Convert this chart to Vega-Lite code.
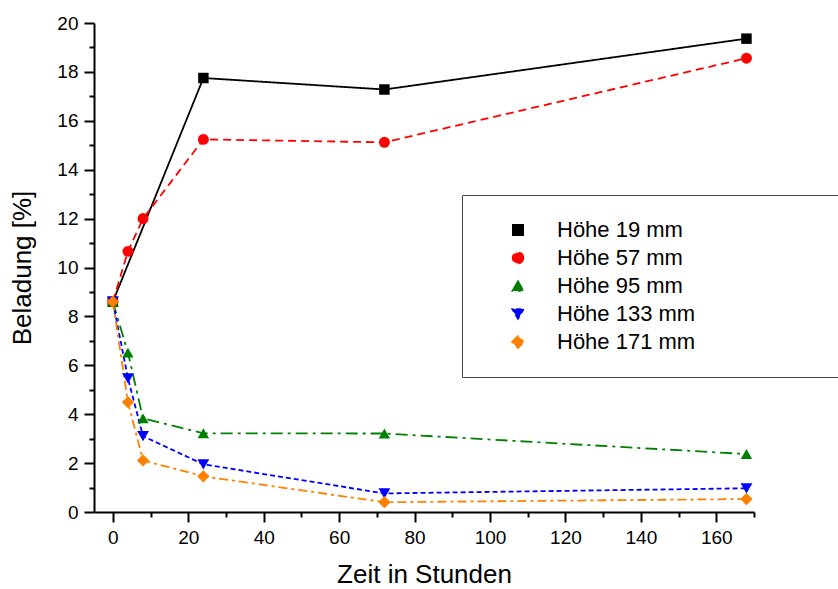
{
  "$schema": "https://vega.github.io/schema/vega-lite/v6.json",
  "width": 660,
  "height": 489,
  "autosize": {"type": "none"},
  "padding": {"left": 94, "top": 23, "right": 84, "bottom": 77},
  "background": "white",
  "config": {"view": {"stroke": null}, "font": "Liberation Sans"},
  "data": {
    "values": [
      {"t": 0, "v": 8.6, "series": "Höhe 19 mm"},
      {"t": 24, "v": 17.75, "series": "Höhe 19 mm"},
      {"t": 72, "v": 17.28, "series": "Höhe 19 mm"},
      {"t": 168, "v": 19.36, "series": "Höhe 19 mm"},
      {"t": 0, "v": 8.6, "series": "Höhe 57 mm"},
      {"t": 4, "v": 10.66, "series": "Höhe 57 mm"},
      {"t": 8, "v": 12.0, "series": "Höhe 57 mm"},
      {"t": 24, "v": 15.24, "series": "Höhe 57 mm"},
      {"t": 72, "v": 15.12, "series": "Höhe 57 mm"},
      {"t": 168, "v": 18.56, "series": "Höhe 57 mm"},
      {"t": 0, "v": 8.6, "series": "Höhe 95 mm"},
      {"t": 4, "v": 6.52, "series": "Höhe 95 mm"},
      {"t": 8, "v": 3.83, "series": "Höhe 95 mm"},
      {"t": 24, "v": 3.22, "series": "Höhe 95 mm"},
      {"t": 72, "v": 3.21, "series": "Höhe 95 mm"},
      {"t": 168, "v": 2.37, "series": "Höhe 95 mm"},
      {"t": 0, "v": 8.6, "series": "Höhe 133 mm"},
      {"t": 4, "v": 5.47, "series": "Höhe 133 mm"},
      {"t": 8, "v": 3.1, "series": "Höhe 133 mm"},
      {"t": 24, "v": 1.95, "series": "Höhe 133 mm"},
      {"t": 72, "v": 0.76, "series": "Höhe 133 mm"},
      {"t": 168, "v": 0.97, "series": "Höhe 133 mm"},
      {"t": 0, "v": 8.6, "series": "Höhe 171 mm"},
      {"t": 4, "v": 4.49, "series": "Höhe 171 mm"},
      {"t": 8, "v": 2.11, "series": "Höhe 171 mm"},
      {"t": 24, "v": 1.46, "series": "Höhe 171 mm"},
      {"t": 72, "v": 0.4, "series": "Höhe 171 mm"},
      {"t": 168, "v": 0.53, "series": "Höhe 171 mm"}
    ]
  },
  "encoding": {
    "x": {
      "field": "t",
      "type": "quantitative",
      "scale": {"domain": [-5, 170], "nice": false, "zero": false},
      "axis": {
        "title": "Zeit in Stunden",
        "titleFontSize": 26,
        "titleFontWeight": "normal",
        "titleColor": "black",
        "titlePadding": 14,
        "values": [0, 10, 20, 30, 40, 50, 60, 70, 80, 90, 100, 110, 120, 130, 140, 150, 160, 170],
        "labelExpr": "datum.value % 20 === 0 ? datum.label : ''",
        "labelFontSize": 19,
        "labelColor": "black",
        "labelPadding": 6,
        "labelFlush": false,
        "labelOverlap": false,
        "grid": false,
        "domainColor": "black",
        "domainWidth": 2,
        "tickColor": "black",
        "tickWidth": 2,
        "tickSize": {"condition": {"test": "datum.value % 20 === 0", "value": 10}, "value": 5}
      }
    },
    "y": {
      "field": "v",
      "type": "quantitative",
      "scale": {"domain": [0, 20], "nice": false},
      "axis": {
        "title": "Beladung [%]",
        "titleFontSize": 26,
        "titleFontWeight": "normal",
        "titleColor": "black",
        "titlePadding": 21,
        "values": [0, 1, 2, 3, 4, 5, 6, 7, 8, 9, 10, 11, 12, 13, 14, 15, 16, 17, 18, 19, 20],
        "labelExpr": "datum.value % 2 === 0 ? datum.label : ''",
        "labelFontSize": 19,
        "labelColor": "black",
        "labelPadding": 6,
        "labelFlush": false,
        "labelOverlap": false,
        "grid": false,
        "domainColor": "black",
        "domainWidth": 2,
        "tickColor": "black",
        "tickWidth": 2,
        "tickSize": {"condition": {"test": "datum.value % 2 === 0", "value": 10}, "value": 5}
      }
    },
    "color": {
      "field": "series",
      "type": "nominal",
      "sort": ["Höhe 19 mm", "Höhe 57 mm", "Höhe 95 mm", "Höhe 133 mm", "Höhe 171 mm"],
      "scale": {
        "domain": ["Höhe 19 mm", "Höhe 57 mm", "Höhe 95 mm", "Höhe 133 mm", "Höhe 171 mm"],
        "range": ["#000000", "#ff0000", "#008000", "#0000ff", "#ff8000"]
      },
      "legend": {
        "title": null,
        "orient": "none",
        "legendX": 368,
        "legendY": 172,
        "padding": 24,
        "strokeColor": "#444444",
        "fillColor": "white",
        "labelFontSize": 22,
        "labelColor": "black",
        "labelLimit": 800,
        "labelExpr": "datum.label + '\u00a0\u00a0\u00a0\u00a0\u00a0\u00a0\u00a0\u00a0\u00a0\u00a0\u00a0\u00a0\u00a0\u00a0\u00a0\u00a0\u00a0\u00a0\u00a0\u00a0\u00a0\u200b'",
        "rowPadding": 6,
        "symbolSize": 144,
        "symbolOffset": 21,
        "labelOffset": 28,
        "symbolStrokeWidth": 1.5
      }
    }
  },
  "layer": [
    {
      "mark": {"type": "line", "strokeWidth": 1.8},
      "encoding": {
        "strokeDash": {
          "field": "series",
          "type": "nominal",
          "scale": {
            "domain": ["Höhe 19 mm", "Höhe 57 mm", "Höhe 95 mm", "Höhe 133 mm", "Höhe 171 mm"],
            "range": [[1, 0], [8, 5], [12, 5, 3, 5], [5, 3], [9, 4, 3, 4]]
          },
          "legend": null
        }
      }
    },
    {
      "mark": {"type": "point", "filled": true, "opacity": 1},
      "encoding": {
        "shape": {
          "field": "series",
          "type": "nominal",
          "scale": {
            "domain": ["Höhe 19 mm", "Höhe 57 mm", "Höhe 95 mm", "Höhe 133 mm", "Höhe 171 mm"],
            "range": ["square", "circle", "triangle-up", "triangle-down", "diamond"]
          },
          "legend": null
        },
        "size": {
          "field": "series",
          "type": "nominal",
          "scale": {
            "domain": ["Höhe 19 mm", "Höhe 57 mm", "Höhe 95 mm", "Höhe 133 mm", "Höhe 171 mm"],
            "range": [110, 150, 170, 170, 190]
          },
          "legend": null
        }
      }
    }
  ]
}
